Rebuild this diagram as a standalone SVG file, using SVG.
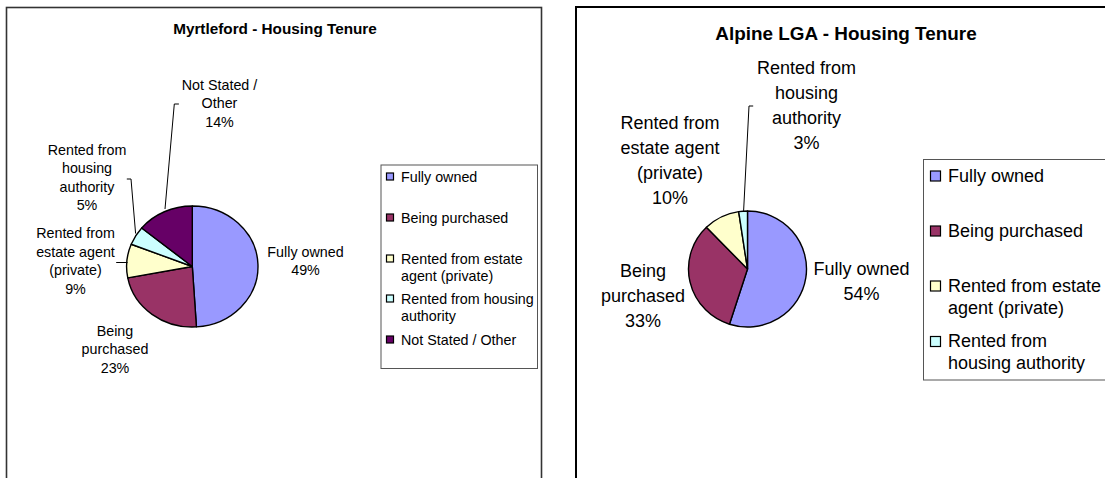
<svg xmlns="http://www.w3.org/2000/svg" width="1105" height="478" viewBox="0 0 1105 478">
  <style>
    text { font-family: "Liberation Sans", Arial, sans-serif; fill: #000; }
    .sm { font-size: 14.3px; }
    .lg { font-size: 18px; }
    .ttl-sm { font-size: 15.3px; font-weight: bold; }
    .ttl-lg { font-size: 18.9px; font-weight: bold; }
    .mid { text-anchor: middle; }
    .slice { stroke: #000; stroke-width: 1.4; stroke-linejoin: round; }
    .lead { stroke: #000; stroke-width: 1; fill: none; }
    .key { stroke: #000; stroke-width: 1.2; }
    .box { fill: #fff; stroke: #555; stroke-width: 1; }
    .own { fill: #9999ff; }
    .buy { fill: #993366; }
    .est { fill: #ffffcc; }
    .hou { fill: #ccffff; }
    .oth { fill: #660066; }
  </style>

  <rect width="1105" height="478" fill="#fff"/>

  <!-- Myrtleford chart -->
  <g id="myrtleford-chart">
    <rect x="6.5" y="7.5" width="535" height="500" fill="#fff" stroke="#333" stroke-width="1.6"/>
    <text class="ttl-sm mid" x="275" y="34">Myrtleford - Housing Tenure</text>

    <g id="myrtleford-pie">
      <path id="m-own" class="slice own" d="M192.3,266.5 L192.3,206 A65.7,60.5 0 0 1 196.43,326.88 Z"/>
      <path id="m-buy" class="slice buy" d="M192.3,266.5 L196.43,326.88 A65.7,60.5 0 0 1 127.76,277.84 Z"/>
      <path id="m-est" class="slice est" d="M192.3,266.5 L127.76,277.84 A65.7,60.5 0 0 1 131.21,244.23 Z"/>
      <path id="m-hou" class="slice hou" d="M192.3,266.5 L131.21,244.23 A65.7,60.5 0 0 1 141.68,227.94 Z"/>
      <path id="m-oth" class="slice oth" d="M192.3,266.5 L141.68,227.94 A65.7,60.5 0 0 1 192.3,206 Z"/>
    </g>

    <g id="myrtleford-labels" class="sm mid">
      <text x="219.5" y="89.5">Not Stated /</text>
      <text x="219.5" y="108">Other</text>
      <text x="219.5" y="126.5">14%</text>

      <text x="87" y="154.5">Rented from</text>
      <text x="87" y="173">housing</text>
      <text x="87" y="191.5">authority</text>
      <text x="87" y="210">5%</text>

      <text x="75.5" y="238">Rented from</text>
      <text x="75.5" y="256.5">estate agent</text>
      <text x="75.5" y="275">(private)</text>
      <text x="75.5" y="293.5">9%</text>

      <text x="305.5" y="256.5">Fully owned</text>
      <text x="305.5" y="275">49%</text>

      <text x="115" y="335.5">Being</text>
      <text x="115" y="354">purchased</text>
      <text x="115" y="372.5">23%</text>
    </g>

    <g id="myrtleford-legend">
      <rect class="box" x="381" y="165" width="156.5" height="203.5"/>
      <rect class="key own" x="386.5" y="173" width="7" height="7"/>
      <text class="sm" x="401" y="181.5">Fully owned</text>
      <rect class="key buy" x="386.5" y="214" width="7" height="7"/>
      <text class="sm" x="401" y="222.5">Being purchased</text>
      <rect class="key est" x="386.5" y="255" width="7" height="7"/>
      <text class="sm" x="401" y="263.5">Rented from estate</text>
      <text class="sm" x="401" y="280.5">agent (private)</text>
      <rect class="key hou" x="386.5" y="295" width="7" height="7"/>
      <text class="sm" x="401" y="303.5">Rented from housing</text>
      <text class="sm" x="401" y="320.5">authority</text>
      <rect class="key oth" x="386.5" y="336" width="7" height="7"/>
      <text class="sm" x="401" y="344.5">Not Stated / Other</text>
    </g>
  </g>

  <!-- Alpine LGA chart -->
  <g id="alpine-chart">
    <rect x="576" y="7" width="600" height="500" fill="#fff" stroke="#000" stroke-width="2"/>
    <text class="ttl-lg mid" x="846" y="40">Alpine LGA - Housing Tenure</text>

    <g id="alpine-pie">
      <path id="a-own" class="slice own" d="M747.5,269 L747.5,211 A59,58 0 1 1 729.46,324.22 Z"/>
      <path id="a-buy" class="slice buy" d="M747.5,269 L729.46,324.22 A59,58 0 0 1 706.44,227.35 Z"/>
      <path id="a-est" class="slice est" d="M747.5,269 L706.44,227.35 A59,58 0 0 1 738.68,211.65 Z"/>
      <path id="a-hou" class="slice hou" d="M747.5,269 L738.68,211.65 A59,58 0 0 1 747.5,211 Z"/>
    </g>

    <g id="alpine-labels" class="lg mid">
      <text x="806.5" y="73.5">Rented from</text>
      <text x="806.5" y="98.5">housing</text>
      <text x="806.5" y="123.5">authority</text>
      <text x="806.5" y="148.5">3%</text>

      <text x="670" y="128.5">Rented from</text>
      <text x="670" y="153.5">estate agent</text>
      <text x="670" y="178.5">(private)</text>
      <text x="670" y="203.5">10%</text>

      <text x="861.5" y="274.5">Fully owned</text>
      <text x="861.5" y="299.5">54%</text>

      <text x="643" y="276.5">Being</text>
      <text x="643" y="301.5">purchased</text>
      <text x="643" y="326.5">33%</text>
    </g>

    <g id="alpine-legend">
      <rect class="box" x="923.5" y="159.5" width="200" height="220.5"/>
      <rect class="key own" x="930.5" y="171" width="10" height="10"/>
      <text class="lg" x="948" y="181.5">Fully owned</text>
      <rect class="key buy" x="930.5" y="226" width="10" height="10"/>
      <text class="lg" x="948" y="236.5">Being purchased</text>
      <rect class="key est" x="930.5" y="281" width="10" height="10"/>
      <text class="lg" x="948" y="291.5">Rented from estate</text>
      <text class="lg" x="948" y="313.5">agent (private)</text>
      <rect class="key hou" x="930.5" y="336.5" width="10" height="10"/>
      <text class="lg" x="948" y="347">Rented from</text>
      <text class="lg" x="948" y="369">housing authority</text>
    </g>
  </g>

  <!-- leader lines from slices to their labels -->
  <g id="connectors">
    <polyline class="lead" points="165,209 174.3,104 178.9,104"/>
    <polyline class="lead" points="135.6,233.5 131,179 126.8,179"/>
    <polyline class="lead" points="127.5,262.5 116.2,262.5"/>
    <polyline class="lead" points="743.6,211 749,106 753.2,106"/>
  </g>
</svg>
